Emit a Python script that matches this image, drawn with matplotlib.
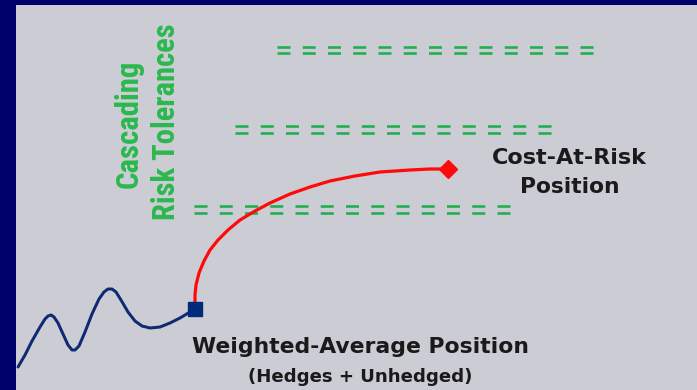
import matplotlib
matplotlib.use("Agg")
import matplotlib.pyplot as plt
from matplotlib.patches import Rectangle
from matplotlib import font_manager as fm

plt.rcParams['lines.scale_dashes'] = False
plt.rcParams['font.family'] = ['Liberation Sans', 'DejaVu Sans']

# Tolerance bands (pixel-space diagram): start x, end x, upper line y, lower line y
tol_start = [277, 235, 194]
tol_end = [593, 551, 510]
tol_upper = [46.5, 125.5, 206]
tol_lower = [52.5, 132.5, 213]

# Weighted-average position path (wavy)
wa_x = [18, 25, 32, 40, 45, 48, 51, 54, 58, 63, 68, 72, 75, 79, 85, 92, 99, 104, 108, 112, 116,
        121, 128, 135, 142, 150, 160, 170, 180, 190, 195]
wa_y = [367, 355, 341, 327, 319, 316, 315, 317, 323, 334, 345, 350, 350, 346, 332, 314, 299, 292, 289, 289, 292,
        300, 312, 321, 326, 328, 327, 323, 318, 312, 309]

# Cost-at-risk path
car_x = [195, 195, 196, 199, 204, 210, 218, 228, 240, 255, 270, 290, 310, 330, 355, 380, 410, 430, 448]
car_y = [308, 295, 285, 273, 261, 250, 240, 230, 220, 211, 203, 194, 187, 181, 176, 172, 170, 169, 169]

W, H = 697, 390
fig = plt.figure(figsize=(W / 100, H / 100), dpi=100, facecolor='#00006a')
ax = fig.add_axes([0, 0, 1, 1])
ax.set_xlim(0, W)
ax.set_ylim(H, 0)
ax.axis('off')

ax.add_patch(Rectangle((16, 5), W - 16, H - 5, facecolor='#cbccd4', edgecolor='none', zorder=0))

green = '#1fb04e'
on = 13 * 0.72
off = 12.25 * 0.72
for xs, xe, yu, yl in zip(tol_start, tol_end, tol_upper, tol_lower):
    for yy in (yu, yl):
        ax.plot([xs, xe], [yy, yy], color=green, lw=2.6 * 0.72,
                linestyle=(0, (on, off)), dash_capstyle='butt', zorder=2)

ax.plot(wa_x, wa_y, color='#0d2a72', lw=3.0 * 0.72, solid_capstyle='round',
        solid_joinstyle='round', zorder=3)
ax.plot(car_x, car_y, color='#ff0a0a', lw=3.2 * 0.72, solid_capstyle='round',
        solid_joinstyle='round', zorder=3)
ax.plot([wa_x[-1]], [wa_y[-1]], marker='s', ms=10.5, color='#002a7a', zorder=4)
ax.plot([car_x[-1]], [car_y[-1]], marker='D', ms=9, color='#ff0a0a', zorder=4)

names = {f.name for f in fm.fontManager.ttflist}
narrow = None
for cand in ['Liberation Sans Narrow', 'Roboto Condensed', 'Open Sans Condensed', 'Archivo Narrow']:
    if cand in names:
        narrow = cand
        break
gfam = [narrow, 'DejaVu Sans'] if narrow else ['Liberation Sans', 'DejaVu Sans']

renderer = fig.canvas.get_renderer()


def fitted(x, y, s, target, size0, rotation=0, **kw):
    t = ax.text(x, y, s, rotation=rotation, ha='center', va='center', fontsize=size0, **kw)
    bb = t.get_window_extent(renderer)
    length = bb.height if rotation == 90 else bb.width
    if length > 0:
        t.set_fontsize(size0 * target / length)
    return t


tgreen = '#2ab84e'
fitted(128.5, 124, 'Cascading', 128, 22, rotation=90, fontweight='bold', color=tgreen, family=gfam)
fitted(166, 121.5, 'Risk Tolerances', 197, 22, rotation=90, fontweight='bold', color=tgreen, family=gfam)

dark = '#1a1a1a'
bf = ['DejaVu Sans']
fitted(569.5, 158, 'Cost-At-Risk', 155, 16, fontweight='bold', color=dark, family=bf)
fitted(570, 187, 'Position', 100, 16, fontweight='bold', color=dark, family=bf)
fitted(360.5, 347, 'Weighted-Average Position', 335, 15.5, fontweight='bold', color=dark, family=bf)
fitted(360.5, 377, '(Hedges + Unhedged)', 225, 12.8, fontweight='bold', color=dark, family=bf)

fig.savefig('out.png', dpi=100, facecolor=fig.get_facecolor())
